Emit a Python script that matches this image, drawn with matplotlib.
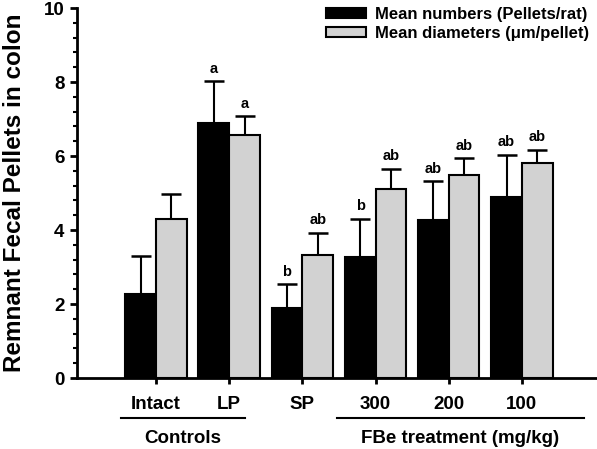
import matplotlib
matplotlib.use("Agg")
import matplotlib.pyplot as plt
import numpy as np
from matplotlib.patches import Patch
import matplotlib.transforms as mtransforms

plt.rcParams['font.family'] = ['Liberation Sans', 'DejaVu Sans']
plt.rcParams['font.weight'] = 'bold'

groups = ["Intact", "LP", "SP", "300", "200", "100"]
numbers = [2.28, 6.9, 1.9, 3.27, 4.27, 4.9]
numbers_err = [1.02, 1.12, 0.63, 1.03, 1.05, 1.13]
diameters = [4.3, 6.58, 3.32, 5.1, 5.49, 5.81]
diameters_err = [0.68, 0.5, 0.6, 0.55, 0.45, 0.36]
numbers_lbl = ["", "a", "b", "b", "ab", "ab"]
diameters_lbl = ["", "a", "ab", "ab", "ab", "ab"]
legend_labels = ["Mean numbers (Pellets/rat)", "Mean diameters (\u03bcm/pellet)"]
ylabel = "Remnant Fecal Pellets in colon"
group_titles = ["Controls", "FBe treatment (mg/kg)"]

fig = plt.figure(figsize=(5.97, 4.49), dpi=100)
ax = fig.add_axes([0.129, 0.158, 0.869, 0.824])

x = np.arange(len(groups))
w = 0.42
gray = "#d2d2d2"
ax.bar(x - w/2, numbers, w, color="black", edgecolor="black", linewidth=1.5, zorder=2)
ax.bar(x + w/2, diameters, w, color=gray, edgecolor="black", linewidth=1.5, zorder=2)
ekw = dict(fmt="none", ecolor="black", elinewidth=1.5, capsize=7.5, capthick=1.8, zorder=1)
ax.errorbar(x - w/2, numbers, yerr=[np.zeros(len(x)), numbers_err], **ekw)
ax.errorbar(x + w/2, diameters, yerr=[np.zeros(len(x)), diameters_err], **ekw)

for xi, v, e, t in zip(x - w/2, numbers, numbers_err, numbers_lbl):
    if t:
        ax.text(xi, v + e + 0.15, t, ha="center", va="bottom", fontsize=10.5, fontweight="bold")
for xi, v, e, t in zip(x + w/2, diameters, diameters_err, diameters_lbl):
    if t:
        ax.text(xi, v + e + 0.15, t, ha="center", va="bottom", fontsize=10.5, fontweight="bold")

ax.set_xlim(-1.08, 6.01)
ax.set_ylim(0, 10)
ax.set_yticks(np.arange(0, 11, 2))
ax.set_yticks(np.arange(0, 10.01, 0.4), minor=True)
ax.set_xticks(x)
ax.set_xticklabels(groups, fontsize=13.5, fontweight="bold")
ax.tick_params(axis="y", which="major", length=5, width=2, labelsize=13.5, pad=4)
ax.tick_params(axis="y", which="minor", length=3, width=1.5)
ax.tick_params(axis="x", which="major", length=4, width=2, pad=9)
for lab in ax.get_yticklabels():
    lab.set_fontweight("bold")
for s in ["top", "right"]:
    ax.spines[s].set_visible(False)
for s in ["left", "bottom"]:
    ax.spines[s].set_linewidth(2)

ax.set_ylabel(ylabel, fontsize=17.5, fontweight="bold", labelpad=13)

trans = mtransforms.blended_transform_factory(ax.transData, ax.transAxes)
for (x0, x1), title in zip([(-0.48, 1.22), (2.47, 5.85)], group_titles):
    ax.plot([x0, x1], [-0.108, -0.108], color="black", lw=1.5, transform=trans, clip_on=False)
    ax.text((x0 + x1) / 2, -0.163, title, ha="center", va="center", fontsize=13.5,
            fontweight="bold", transform=trans)

handles = [Patch(facecolor="black", edgecolor="black", linewidth=1.5),
           Patch(facecolor=gray, edgecolor="black", linewidth=1.5)]
ax.legend(handles, legend_labels, loc="upper right", bbox_to_anchor=(1.01, 1.035),
          frameon=False, prop={"weight": "bold", "size": 12}, handlelength=2.4,
          handleheight=0.5, handletextpad=0.55, labelspacing=0.25, borderpad=0.2)

fig.savefig("out.png", dpi=100)
